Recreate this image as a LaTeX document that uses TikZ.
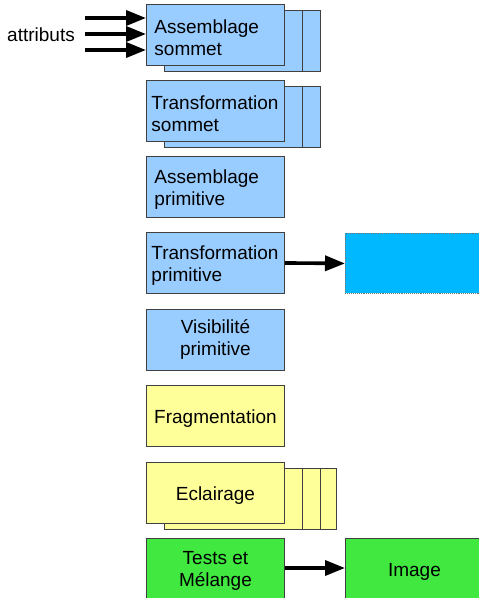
\documentclass[tikz,border=0pt]{standalone}
\usepackage{fontspec}
\setmainfont{Liberation Sans}
\usetikzlibrary{arrows.meta}
\definecolor{vtxblue}{HTML}{99CCFF}
\definecolor{fragyellow}{HTML}{FFFF99}
\definecolor{pixgreen}{HTML}{40E840}
\definecolor{geomcyan}{HTML}{00B8FF}
\begin{document}
\begin{tikzpicture}[x=1pt,y=-1pt,
  stage/.style={draw=black!75, line width=0.9pt, minimum width=138pt,
    minimum height=61pt, inner sep=0pt, anchor=north west,
    font=\fontsize{19}{22}\selectfont, align=center,
    execute at begin node={\rule{0pt}{19.5pt}}},
  lefttext/.style={align=left, inner xsep=#1, text width=138pt-2*#1},
  flow/.style={line width=3.6pt, -{Triangle[length=20pt,width=15pt]}}]
\useasboundingbox (0,0) rectangle (479,598);

% vertex assembly, replicated
\node[stage, fill=vtxblue] (as3) at (182,10) {};
\node[stage, fill=vtxblue] (as2) at (164,10) {};
\node[stage, fill=vtxblue, lefttext=8pt] (as) at (146,4) {Assemblage\\sommet};

% vertex transform, replicated
\node[stage, fill=vtxblue] (ts3) at (182,86) {};
\node[stage, fill=vtxblue] (ts2) at (164,86) {};
\node[stage, fill=vtxblue, lefttext=5pt] (ts) at (146,80) {Transformation\\sommet};

\node[stage, fill=vtxblue, lefttext=8pt] (ap) at (146,156) {Assemblage\\primitive};
\node[stage, fill=vtxblue, lefttext=5pt] (tp) at (146,232) {Transformation\\primitive};
\node[stage, fill=vtxblue] (vp) at (146,309) {Visibilité\\primitive};
\node[stage, fill=fragyellow] (fr) at (146,385) {Fragmentation};

% lighting, replicated
\node[stage, fill=fragyellow] (ec4) at (198,468) {};
\node[stage, fill=fragyellow] (ec3) at (182,468) {};
\node[stage, fill=fragyellow] (ec2) at (164,468) {};
\node[stage, fill=fragyellow] (ec) at (146,462) {Eclairage};

\node[stage, fill=pixgreen, minimum height=64pt] (tm) at (146,538) {Tests et\\Mélange};
\node[stage, fill=pixgreen, minimum height=64pt] (im) at (345,538) {\raisebox{3pt}{Image}};

% geometry output
\node[stage, fill=geomcyan, draw=black!55, densely dotted, minimum height=60pt] (go) at (345,233) {};

% inputs
\node[font=\fontsize{19}{22}\selectfont, anchor=west, inner sep=0pt] (attr) at (7,35) {attributs};
\coordinate (a1) at (85,18);
\coordinate (a2) at (85,34);
\coordinate (a3) at (85,50);
\draw[flow] (a1) -- (a1 -| as.west);
\draw[flow] (a2) -- (a2 -| as.west);
\draw[flow] (a3) -- (a3 -| as.west);

\draw[flow] (tp.east) -- (go.west);
\draw[flow] (tm.east |- 0,568) -- (im.west |- 0,568);
\end{tikzpicture}
\end{document}
